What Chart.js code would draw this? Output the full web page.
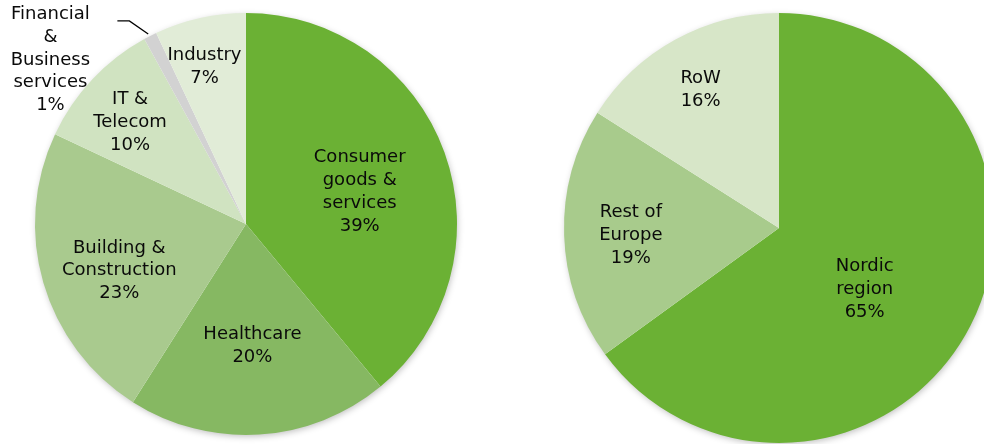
<!DOCTYPE html>
<html>
<head>
<meta charset="utf-8">
<script src="https://cdn.jsdelivr.net/npm/chart.js@4.4.0/dist/chart.umd.min.js"></script>
<style>
    html, body { margin: 0; padding: 0; background: #fff; overflow: hidden; }
    body { width: 984px; height: 444px; position: relative; }
    .pie { position: absolute; top: 0; }
    #sectorWrap { left: 0; width: 492px; height: 444px; }
    #regionWrap { left: 492px; width: 512px; height: 460px; }
</style>
</head>
<body>
<div class="pie" id="sectorWrap"><canvas id="sectorChart"></canvas></div>
<div class="pie" id="regionWrap"><canvas id="regionChart"></canvas></div>
<script>
// sales by sector (left pie), clockwise from 12 o'clock
const sectorLabels = [
    ['Consumer', 'goods &', 'services'],
    ['Healthcare'],
    ['Building &', 'Construction'],
    ['IT &', 'Telecom'],
    ['Financial', '&', 'Business', 'services'],
    ['Industry']
];
const sectorValues = [39, 20, 23, 10, 1, 7];
const sectorColors = ['#6bb134', '#86b862', '#a9ca8e', '#d0e3c1', '#d2d2d2', '#e1ecd7'];

// sales by region (right pie)
const regionLabels = [['Nordic', 'region'], ['Rest of', 'Europe'], ['RoW']];
const regionValues = [65, 19, 16];
const regionColors = ['#6bb134', '#a8cb8c', '#d7e6c8'];

// where each label sits: [fraction of radius, angle tweak in degrees]
const sectorLabelPos = [[0.56, 4], [0.58, 0.6], [0.64, -4], [0.73, -2], [1.21, -23], [0.77, -2.2]];
const regionLabelPos = [[0.49, 8.6], [0.69, -1], [0.74, -0.7]];

const FONT = '18px "DejaVu Sans", Verdana, sans-serif';
const LINE_H = 22.8;

const shadowPlugin = {
    id: 'pieShadow',
    beforeDatasetsDraw(chart) {
        const arc = chart.getDatasetMeta(0).data[0];
        if (!arc) return;
        const ctx = chart.ctx;
        ctx.save();
        ctx.shadowColor = 'rgba(0,0,0,0.28)';
        ctx.shadowBlur = 7;
        ctx.shadowOffsetX = 1;
        ctx.shadowOffsetY = 2;
        ctx.fillStyle = '#fff';
        ctx.beginPath();
        ctx.arc(arc.x, arc.y, arc.outerRadius - 1, 0, Math.PI * 2);
        ctx.fill();
        ctx.restore();
    }
};

const sliceLabelPlugin = {
    id: 'sliceLabels',
    afterDatasetsDraw(chart, args, opts) {
        const ctx = chart.ctx;
        const meta = chart.getDatasetMeta(0);
        const values = chart.data.datasets[0].data;
        const total = values.reduce((a, b) => a + b, 0);
        ctx.save();
        ctx.font = FONT;
        ctx.fillStyle = '#0a0a0a';
        ctx.textAlign = 'center';
        ctx.textBaseline = 'middle';
        meta.data.forEach((arc, i) => {
            const pos = opts.positions[i];
            const mid = (arc.startAngle + arc.endAngle) / 2 + pos[1] * Math.PI / 180;
            const r = arc.outerRadius * pos[0];
            const x = arc.x + Math.cos(mid) * r;
            const y = arc.y + Math.sin(mid) * r;
            const lines = chart.data.labels[i].concat([Math.round(values[i] / total * 100) + '%']);
            const top = y - (lines.length - 1) * LINE_H / 2;
            lines.forEach((t, k) => ctx.fillText(t, x, top + k * LINE_H));

            // leader line for labels that sit outside the pie
            if (pos[0] > 1) {
                const am = (arc.startAngle + arc.endAngle) / 2;
                const ex = arc.x + Math.cos(am) * arc.outerRadius;
                const ey = arc.y + Math.sin(am) * arc.outerRadius;
                const bx = arc.x + Math.cos(am - 0.05) * arc.outerRadius * 1.11;
                const by = arc.y + Math.sin(am - 0.05) * arc.outerRadius * 1.11;
                ctx.strokeStyle = '#000';
                ctx.lineWidth = 1.3;
                ctx.beginPath();
                ctx.moveTo(ex - 2, ey - 2);
                ctx.lineTo(bx, by);
                ctx.lineTo(bx - 12, by);
                ctx.stroke();
            }
        });
        ctx.restore();
    }
};

function makePie(id, labels, values, colors, positions, padding) {
    return new Chart(document.getElementById(id).getContext('2d'), {
        type: 'pie',
        data: {
            labels: labels,
            datasets: [{
                data: values,
                backgroundColor: colors,
                borderWidth: 0
            }]
        },
        options: {
            responsive: true,
            maintainAspectRatio: false,
            animation: false,
            layout: { padding: padding },
            plugins: {
                legend: { display: false },
                tooltip: { enabled: false },
                sliceLabels: { positions: positions }
            }
        },
        plugins: [shadowPlugin, sliceLabelPlugin]
    });
}

makePie('sectorChart', sectorLabels, sectorValues, sectorColors, sectorLabelPos,
    { left: 35, right: 35, top: 13, bottom: 9 });
makePie('regionChart', regionLabels, regionValues, regionColors, regionLabelPos,
    { left: 72, right: 10, top: 13, bottom: 17 });
</script>
</body>
</html>
